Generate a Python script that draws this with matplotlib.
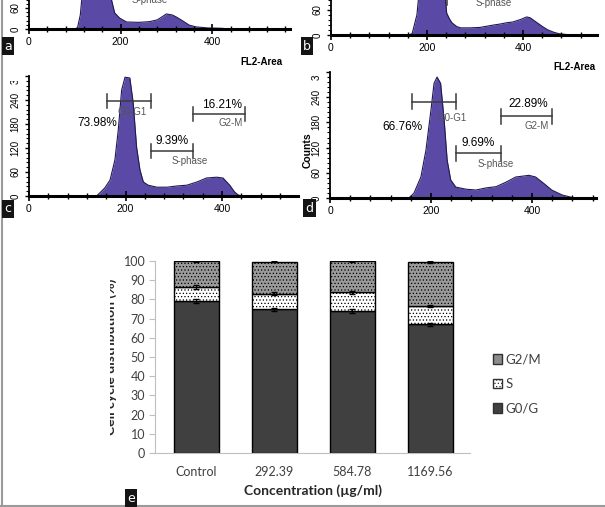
import numpy as np
import matplotlib.pyplot as plt
from matplotlib.ticker import MultipleLocator
from matplotlib.transforms import Bbox, TransformedBbox
from matplotlib.patches import Patch
from matplotlib.lines import Line2D

W, H = 605, 507

# ---- panels a-d : DNA content histograms (FL2-Area channel, counts)
a_channel = [100, 106, 112, 117, 125, 140, 155, 165, 172, 178, 187, 198, 213, 240, 263,
             280, 292, 300, 313, 322, 332, 350, 365, 390, 422, 432]
a_counts = [0, 4, 40, 110, 210, 255, 262, 235, 170, 95, 46, 31, 20, 19, 21,
            26, 36, 43, 40, 34, 26, 11, 6, 3, 2, 0]

b_channel = [160, 169, 179, 185, 190, 205, 220, 230, 236, 241, 247, 252, 262, 270, 290, 310,
             325, 340, 352, 365, 379, 395, 408, 415, 421, 432, 442, 452, 463, 475, 484, 500]
b_counts = [0, 3, 48, 120, 200, 265, 270, 210, 120, 52, 38, 29, 20, 17, 17, 18,
            21, 24, 26, 29, 31, 37, 43, 41, 36, 27, 19, 12, 7, 3, 2, 0]

c_channel = [140, 147, 157, 168, 178, 185, 192, 199, 209, 216, 223, 230, 237, 247, 265,
             286, 306, 327, 348, 368, 389, 402, 416, 426, 433, 440]
c_counts = [0, 8, 20, 40, 90, 165, 265, 297, 295, 232, 122, 65, 35, 27, 22,
            22, 25, 27, 35, 45, 47, 45, 27, 10, 3, 0]

d_channel = [156, 166, 180, 190, 200, 206, 212, 219, 226, 232, 239, 249, 269, 289, 309,
             329, 349, 368, 381, 394, 407, 423, 439, 460, 477, 487]
d_counts = [0, 11, 50, 114, 210, 273, 288, 273, 186, 90, 43, 26, 21, 19, 24,
            27, 38, 50, 52, 54, 50, 35, 19, 7, 2, 0]

gate_names = ['G0-G1', 'S-phase', 'G2-M']
c_gate_pct = ['73.98%', '9.39%', '16.21%']
d_gate_pct = ['66.76%', '9.69%', '22.89%']
# gate (start channel, end channel, level in counts)
c_gates = [(162, 253, 237), (253, 340, 112), (340, 448, 205)]
d_gates = [(162, 250, 229), (250, 339, 107), (339, 440, 195)]

# ---- panel e : cell cycle distribution (%)
categories = ['Control', '292.39', '584.78', '1169.56']
g0 = [79.2, 74.8, 74.1, 67.0]
s_phase = [7.3, 8.2, 9.5, 9.5]
g2m = [13.5, 16.7, 16.4, 23.0]
g0_err = [1.0, 0.8, 1.0, 0.8]
s_err = [1.0, 0.7, 0.8, 0.7]
g2m_err = [0.4, 0.3, 0.3, 0.4]

PURPLE = '#5b4aa5'
HFONT = 'Liberation Sans'
EFONT = ['Lato', 'DejaVu Sans']

plt.rcParams['hatch.linewidth'] = 0.5
fig = plt.figure(figsize=(W / 100, H / 100), dpi=100)


def clip_above(y_px):
    return TransformedBbox(Bbox.from_extents(0, 0, 1, 1 - y_px / H), fig.transFigure)


def hist_panel(x0, y0, sx, sy, xmax, ch, cnt, ymax=300):
    ax = fig.add_axes([x0 / W, 1 - y0 / H, xmax * sx / W, ymax * sy / H])
    ax.fill_between(ch, cnt, color=PURPLE, lw=0, clip_on=False)
    ax.plot(ch, cnt, color='#1e1a50', lw=0.8, clip_on=False)
    ax.set_xlim(0, xmax)
    ax.set_ylim(0, ymax)
    for sp in ['top', 'right']:
        ax.spines[sp].set_visible(False)
    ax.spines['bottom'].set_linewidth(2.2)
    ax.spines['left'].set_linewidth(1.3)
    ax.set_xticks([0, 200, 400])
    ax.xaxis.set_minor_locator(MultipleLocator(40))
    ax.set_yticks([0, 60, 120, 180, 240, 300])
    ax.yaxis.set_minor_locator(MultipleLocator(12))
    ax.tick_params(axis='x', which='major', direction='inout', length=7, width=1.2, pad=2,
                   labelsize=7.5)
    ax.tick_params(axis='x', which='minor', direction='inout', length=4, width=1)
    ax.tick_params(axis='y', which='major', length=3, width=1, pad=3, labelsize=7)
    ax.tick_params(axis='y', which='minor', length=2, width=0.8)
    for lab in ax.get_xticklabels() + ax.get_yticklabels():
        lab.set_family(HFONT)
    for lab in ax.get_yticklabels():
        lab.set_rotation(90)
        lab.set_va('center')
    return ax


def gates(ax, gate_list, pct, layout):
    for (g1, g2, lvl), name, p, (pxy, nxy) in zip(gate_list, gate_names, pct, layout):
        ax.plot([g1, g2], [lvl, lvl], color='#3a3a3a', lw=1.1, clip_on=False)
        for g in (g1, g2):
            ax.plot([g, g], [lvl - 18, lvl + 18], color='#3a3a3a', lw=1.1, clip_on=False)
        ax.text(pxy[0], pxy[1], p, fontsize=8.5, family=HFONT, ha='center', va='center')
        ax.text(nxy[0], nxy[1], name, fontsize=7, family=HFONT, color='#555555',
                ha='center', va='center')


# panel a
ax_a = hist_panel(29, 29, 0.458, 0.35, 570, a_channel, a_counts)
ax_a.text(264, 83, 'S-phase', fontsize=7, family=HFONT, color='#555555', ha='center', va='center')
fig.text(261 / W, 1 - 62 / H, 'FL2-Area', fontsize=7, family=HFONT, weight='bold',
         ha='center', va='center')

# panel b
ax_b = hist_panel(331, 35, 0.48, 0.42, 554, b_channel, b_counts)
ax_b.plot([150, 242], [90, 90], color='#3a3a3a', lw=1.1, clip_on=False)
ax_b.plot([242, 242], [72, 108], color='#3a3a3a', lw=1.1, clip_on=False)
ax_b.text(338, 76, 'S-phase', fontsize=7, family=HFONT, color='#555555', ha='center', va='center')
fig.text(574 / W, 1 - 67 / H, 'FL2-Area', fontsize=7, family=HFONT, weight='bold',
         ha='center', va='center')

# panel c
ax_c = hist_panel(29, 196, 0.4825, 0.40, 557, c_channel, c_counts)
gates(ax_c, c_gates, c_gate_pct,
      [((141, 182), (213, 210)), ((296, 137), (334, 87)), ((400, 227), (417, 182))])
ax_c.yaxis.get_major_ticks()[-1].label1.set_clip_box(clip_above(81))

# panel d
ax_d = hist_panel(330, 198, 0.505, 0.42, 527, d_channel, d_counts)
gates(ax_d, d_gates, d_gate_pct,
      [((143, 169), (242, 190)), ((293, 131), (329, 81)), ((392, 224), (410, 171))])
ax_d.yaxis.get_major_ticks()[-1].label1.set_clip_box(clip_above(76))
fig.text(308 / W, 1 - 150 / H, 'Counts', fontsize=7.5, family=HFONT, weight='bold',
         rotation=90, ha='center', va='center')

# ---- panel e
ax_e = fig.add_axes([155 / W, 1 - 453 / H, 315 / W, 192 / H])
x = np.arange(len(categories))
g0 = np.array(g0)
s_phase = np.array(s_phase)
g2m = np.array(g2m)
bw = 0.58
ax_e.bar(x, g0, bw, color='#404040', edgecolor='black', lw=1, label='G0/G')
ax_e.bar(x, s_phase, bw, bottom=g0, color='white', edgecolor='black', lw=1, hatch='.....',
         label='S')
ax_e.bar(x, g2m, bw, bottom=g0 + s_phase, color='#9a9a9a', edgecolor='black', lw=1,
         hatch='.....', label='G2/M')
ax_e.errorbar(x, g0, yerr=g0_err, fmt='none', ecolor='black', elinewidth=0.8, capsize=2.5)
ax_e.errorbar(x, g0 + s_phase, yerr=s_err, fmt='none', ecolor='black', elinewidth=0.8,
              capsize=2.5)
ax_e.errorbar(x, g0 + s_phase + g2m, yerr=g2m_err, fmt='none', ecolor='black',
              elinewidth=0.8, capsize=2.5)
ax_e.set_xlim(-0.53, 3.51)
ax_e.set_ylim(0, 100)
ax_e.set_yticks(range(0, 101, 10))
ax_e.set_xticks(x)
ax_e.set_xticklabels(categories)
for sp in ['top', 'right']:
    ax_e.spines[sp].set_visible(False)
for sp in ['left', 'bottom']:
    ax_e.spines[sp].set_color('#bfbfbf')
ax_e.tick_params(axis='y', length=4, color='#bfbfbf', labelsize=9, labelcolor='#404040', pad=3)
ax_e.tick_params(axis='x', length=0, labelsize=9, labelcolor='#404040', pad=9)
for lab in ax_e.get_xticklabels() + ax_e.get_yticklabels():
    lab.set_family(EFONT)
ax_e.set_xlabel('Concentration (µg/ml)', fontsize=10, weight='bold', family=EFONT,
                color='#262626', labelpad=5)

ylab = fig.text(117 / W, 1 - 357 / H, 'Cell cycle distribution (%)', fontsize=10,
                weight='bold', family=EFONT, color='#262626', rotation=90,
                ha='right', va='center')
ylab.set_clip_box(TransformedBbox(Bbox.from_extents(110 / W, 0, 1, 1), fig.transFigure))

handles = [Patch(facecolor='#8c8c8c', edgecolor='#303030', label='G2/M'),
           Patch(facecolor='white', edgecolor='#303030', hatch='.....', label='S'),
           Patch(facecolor='#404040', edgecolor='#303030', label='G0/G')]
fig.legend(handles=handles, loc='upper left', bbox_to_anchor=(486 / W, 1 - 347 / H),
           frameon=False, handlelength=0.7, handleheight=0.7, handletextpad=0.3,
           labelspacing=0.95, prop={'family': EFONT, 'size': 9.5}, labelcolor='#404040',
           borderpad=0)

# ---- panel letters
for letter, (lx, ly) in zip('abcde', [(8, 46), (307, 46), (8, 209), (309, 208), (131, 498)]):
    fig.text(lx / W, 1 - ly / H, letter, color='white', fontsize=9, family='DejaVu Sans',
             ha='center', va='center',
             bbox=dict(boxstyle='square,pad=0.2', fc='#141414', ec='none'))

# gray frame of the figure
fig.add_artist(Line2D([1.5 / W, 1.5 / W], [0, 1], transform=fig.transFigure,
                      color='#9a9a9a', lw=1.5))
fig.add_artist(Line2D([0, 1], [1.5 / H, 1.5 / H], transform=fig.transFigure,
                      color='#9a9a9a', lw=1.5))

fig.savefig('out.png', dpi=100)
